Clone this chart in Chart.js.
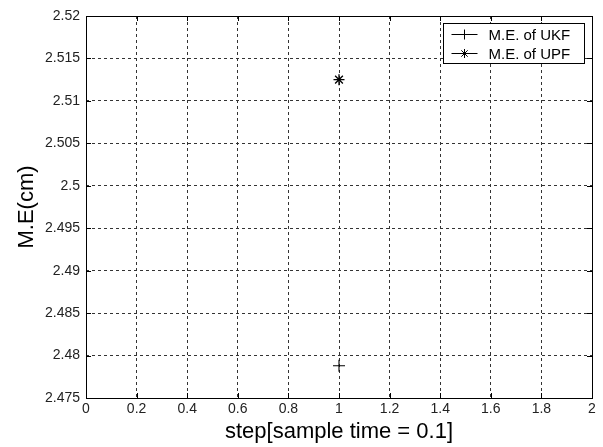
<!DOCTYPE html>
<html lang="en">
<head>
  <meta charset="UTF-8">
  <title>M.E. of UKF / UPF</title>
  <style>
    body {
      margin: 0;
      padding: 0;
      background: #fff;
    }
    .chart-box {
      width: 603px;
      height: 447px;
    }
  </style>
</head>
<body>
  <div class="chart-box">
    <canvas id="meChart" width="603" height="447"></canvas>
  </div>

  <script src="https://cdn.jsdelivr.net/npm/chart.js"></script>
  <script>
    // Data
    const seriesNames = ['M.E. of UKF', 'M.E. of UPF'];
    const stepValues = [1];
    const ukfError = [2.4788];
    const upfError = [2.5125];
    const xTicks = [0, 2, 0.2];          // min, max, step
    const yTicks = [2.475, 2.52, 0.005]; // min, max, step

    const toPoints = (xs, ys) => xs.map((x, i) => ({ x: x, y: ys[i] }));

    // box round the plot + matlab style legend
    const framePlugin = {
      id: 'frame',
      afterDraw(chart) {
        const ctx = chart.ctx;
        const a = chart.chartArea;
        ctx.save();
        ctx.strokeStyle = '#000';
        ctx.lineWidth = 1;
        ctx.strokeRect(Math.round(a.left) + 0.5, Math.round(a.top) + 0.5,
          Math.round(a.right - a.left), Math.round(a.bottom - a.top));

        // small inward ticks like matlab
        const xs = chart.scales.x, ys = chart.scales.y;
        ctx.beginPath();
        xs.ticks.forEach(t => {
          const px = Math.round(xs.getPixelForValue(t.value)) + 0.5;
          ctx.moveTo(px, a.bottom); ctx.lineTo(px, a.bottom - 5);
          ctx.moveTo(px, a.top); ctx.lineTo(px, a.top + 5);
        });
        ys.ticks.forEach(t => {
          const py = Math.round(ys.getPixelForValue(t.value)) + 0.5;
          ctx.moveTo(a.left, py); ctx.lineTo(a.left + 5, py);
          ctx.moveTo(a.right, py); ctx.lineTo(a.right - 5, py);
        });
        ctx.stroke();

        // legend
        const boxW = 141, boxH = 40;
        const bx = Math.round(a.right) - 8 - boxW + 0.5;
        const by = Math.round(a.top) + 7 + 0.5;
        ctx.fillStyle = '#fff';
        ctx.fillRect(bx, by, boxW, boxH);
        ctx.strokeRect(bx, by, boxW, boxH);
        ctx.font = '15px Arial';
        ctx.textBaseline = 'middle';
        chart.data.datasets.forEach((ds, i) => {
          const y = by + 11 + i * 19;
          ctx.beginPath();
          ctx.moveTo(bx + 8, y);
          ctx.lineTo(bx + 34, y);
          ctx.lineWidth = 1;
          ctx.stroke();
          Chart.helpers.drawPoint(ctx, {
            pointStyle: ds.pointStyle,
            radius: ds.pointRadius - 1,
            rotation: 0,
            borderWidth: ds.borderWidth
          }, bx + 21, y);
          ctx.fillStyle = '#000';
          ctx.fillText(ds.label, bx + 45, y + 1);
        });
        ctx.restore();
      }
    };

    const tickFont = { family: 'Arial', size: 14 };
    const gridStyle = { color: '#333', lineWidth: 1, tickLength: 0 };

    const ctx = document.getElementById('meChart').getContext('2d');
    const chart = new Chart(ctx, {
      type: 'scatter',
      data: {
        datasets: [{
          label: seriesNames[0],
          data: toPoints(stepValues, ukfError),
          pointStyle: 'cross',
          pointRadius: 6,
          borderColor: '#000',
          backgroundColor: '#000',
          borderWidth: 1.1
        }, {
          label: seriesNames[1],
          data: toPoints(stepValues, upfError),
          pointStyle: 'star',
          pointRadius: 5.5,
          borderColor: '#000',
          backgroundColor: '#000',
          borderWidth: 1.3
        }]
      },
      options: {
        responsive: false,
        animation: false,
        layout: { padding: { left: 0, top: 16, right: 11, bottom: 0 } },
        plugins: {
          legend: { display: false },
          tooltip: { enabled: false }
        },
        scales: {
          x: {
            type: 'linear',
            min: xTicks[0],
            max: xTicks[1],
            afterFit: (s) => { s.height = 49; },
            ticks: {
              stepSize: xTicks[2],
              color: '#222',
              font: tickFont,
              padding: 3,
              maxRotation: 0,
              callback: (v) => String(Number(v.toFixed(1)))
            },
            grid: gridStyle,
            border: { display: false, dash: [3, 3] },
            title: {
              display: true,
              text: 'step[sample time = 0.1]',
              color: '#000',
              font: { family: 'Arial', size: 22, lineHeight: 1.2 },
              padding: { top: 0, bottom: 2 }
            }
          },
          y: {
            type: 'linear',
            min: yTicks[0],
            max: yTicks[1],
            afterFit: (s) => { s.width = 86; },
            ticks: {
              stepSize: yTicks[2],
              color: '#222',
              font: tickFont,
              padding: 6,
              callback: (v) => String(Number(v.toFixed(3)))
            },
            grid: gridStyle,
            border: { display: false, dash: [3, 3] },
            title: {
              display: true,
              text: 'M.E(cm)',
              color: '#000',
              font: { family: 'Arial', size: 22, lineHeight: 1.2 },
              padding: { top: 14, bottom: 0 }
            }
          }
        }
      },
      plugins: [framePlugin]
    });
  </script>
</body>
</html>
